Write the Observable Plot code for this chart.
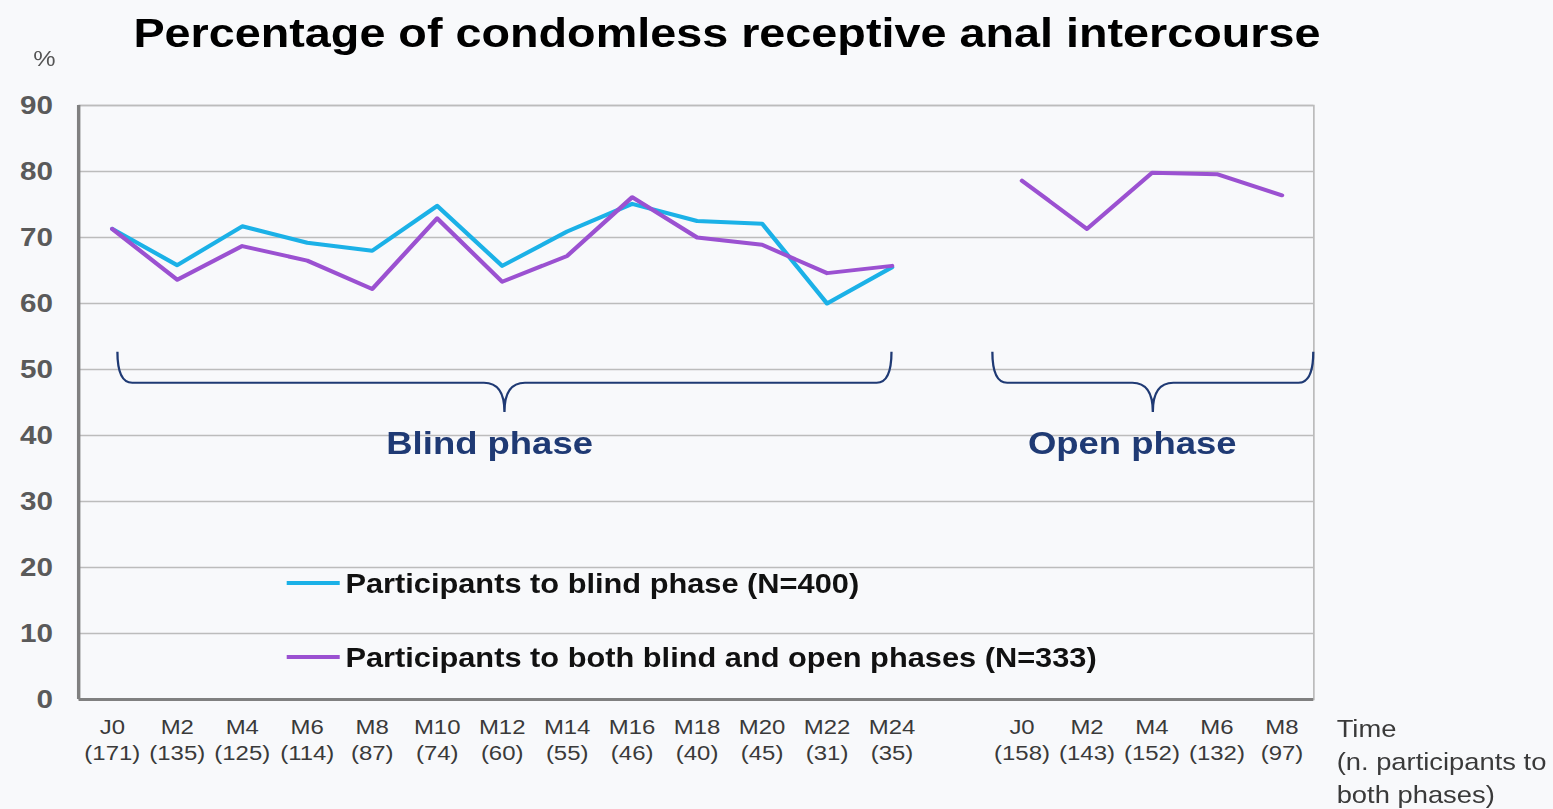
<!DOCTYPE html>
<html>
<head>
<meta charset="utf-8">
<script src="https://cdn.jsdelivr.net/npm/d3@7"></script>
<script src="https://cdn.jsdelivr.net/npm/@observablehq/plot@0.6"></script>
<style>
  html, body { margin: 0; padding: 0; background: #f8f9fb; overflow: hidden; }
  #wrap { width: 1362px; transform: scaleX(1.14); transform-origin: 0 0; font-family: "Liberation Sans", Arial, sans-serif; }
  #title { position: relative; height: 50px; }
  #title span { position: absolute; left: 117px; top: 13px; font-size: 41px; line-height: 1; font-weight: bold; color: #000; white-space: nowrap; }
</style>
</head>
<body>
<div id="wrap">
  <div id="title"><span>Percentage of condomless receptive anal intercourse</span></div>
  <div id="chart"></div>
</div>
<script>
// ---- data ----
const blindTimes = ["J0","M2","M4","M6","M8","M10","M12","M14","M16","M18","M20","M22","M24"];
const blindCounts = [171,135,125,114,87,74,60,55,46,40,45,31,35];
const openTimes = ["J0","M2","M4","M6","M8"];
const openCounts = [158,143,152,132,97];
const blindPhaseValues = [71.3,65.8,71.7,69.2,68.0,74.8,65.7,70.9,75.1,72.5,72.1,60.0,65.5];
const bothBlindValues  = [71.3,63.6,68.7,66.5,62.2,72.9,63.3,67.2,76.1,70.0,68.9,64.6,65.7];
const bothOpenValues   = [78.6,71.3,79.8,79.6,76.4];
const seriesNames = ["Participants to blind phase (N=400)", "Participants to both blind and open phases (N=333)"];
const seriesColors = ["#1bb1e7", "#9b51d1"];
const phaseNames = ["Blind phase", "Open phase"];
const yTicks = [0,10,20,30,40,50,60,70,80,90];
const yUnit = "%";
const xTitle = "Time\n(n. participants to\nboth phases)";

// ---- derived tables ----
const blindKeys = blindTimes.map((t, i) => "B" + i);
const openKeys = openTimes.map((t, i) => "O" + i);
const xDomain = [...blindKeys, "gap", ...openKeys];
const tickText = new Map([
  ...blindKeys.map((k, i) => [k, `${blindTimes[i]}\n(${blindCounts[i]})`]),
  ...openKeys.map((k, i) => [k, `${openTimes[i]}\n(${openCounts[i]})`])
]);
const blindRows = blindKeys.map((k, i) => ({key: k, value: blindPhaseValues[i]}));
const bothRows = [
  ...blindKeys.map((k, i) => ({key: k, value: bothBlindValues[i], phase: "blind"})),
  ...openKeys.map((k, i) => ({key: k, value: bothOpenValues[i], phase: "open"}))
];

const BRACE = "#1f3a74";

function decorations(index, scales, values, dims) {
  const {x, y} = scales;
  const left = dims.marginLeft, right = dims.width - dims.marginRight;
  const top = dims.marginTop, bottom = dims.height - dims.marginBottom;
  const g = d3.create("svg:g");
  // left axis line
  g.append("line").attr("x1", left).attr("x2", left).attr("y1", top).attr("y2", bottom)
    .attr("stroke", "#808080").attr("stroke-width", 3);
  // unit label
  g.append("text").attr("x", left - 30).attr("y", top - 39).attr("text-anchor", "middle")
    .attr("font-size", 22).attr("fill", "#555").text(yUnit);
  // braces
  const braces = [
    {x0: x(blindKeys[0]) + 5, x1: x(blindKeys[blindKeys.length - 1]), name: phaseNames[0], shift: -13},
    {x0: x(openKeys[0]) - 25.5, x1: right, name: phaseNames[1], shift: -18}
  ];
  const yt = y(52.6), yh = y(47.9), yp = y(43.5);
  for (const b of braces) {
    const xm = (b.x0 + b.x1) / 2;
    const p = `M${b.x0},${yt} Q${b.x0},${yh} ${b.x0 + 13},${yh} L${xm - 18},${yh} Q${xm},${yh} ${xm},${yp} Q${xm},${yh} ${xm + 18},${yh} L${b.x1 - 13},${yh} Q${b.x1},${yh} ${b.x1},${yt}`;
    g.append("path").attr("d", p).attr("fill", "none").attr("stroke", BRACE).attr("stroke-width", 2);
    g.append("text").attr("x", xm + b.shift).attr("y", top + 338 + 11.5).attr("text-anchor", "middle")
      .attr("font-size", 32).attr("font-weight", "bold").attr("fill", BRACE).text(b.name);
  }
  // legend
  const legY = [top + 478, top + 552];
  seriesNames.forEach((name, i) => {
    g.append("line").attr("x1", left + 182.5).attr("x2", left + 229).attr("y1", legY[i]).attr("y2", legY[i])
      .attr("stroke", seriesColors[i]).attr("stroke-width", 4);
    g.append("text").attr("x", left + 234).attr("y", legY[i] + 9.7).attr("text-anchor", "start")
      .attr("font-size", 27).attr("font-weight", "bold").attr("fill", "#111").text(name);
  });
  return g.node();
}

const chart = Plot.plot({
  width: 1362,
  height: 759,
  marginTop: 55,
  marginBottom: 110,
  marginLeft: 69,
  marginRight: 210,
  style: {background: "#f8f9fb", fontFamily: "'Liberation Sans', Arial, sans-serif", overflow: "visible"},
  x: {type: "point", domain: xDomain, padding: 0.5, axis: null},
  y: {domain: [0, 90]},
  marks: [
    Plot.gridY(yTicks, {stroke: "#bcbcbc", strokeOpacity: 1, strokeWidth: 1.5}),
    Plot.frame({stroke: "#bcbcbc", strokeWidth: 1.5}),
    Plot.axisY(yTicks, {tickSize: 0, tickPadding: 23, fontSize: 26, fontWeight: "bold", fill: "#5a5a5a", label: null}),
    Plot.ruleY([0], {stroke: "#808080", strokeWidth: 3}),
    Plot.text(xDomain, {x: d => d, text: d => tickText.get(d) || "", frameAnchor: "bottom", lineAnchor: "top",
      dy: 16, fontSize: 21, lineHeight: 1.24, fill: "#3a3a3a"}),
    Plot.text([xTitle], {text: d => d, frameAnchor: "bottom-right", textAnchor: "start", lineAnchor: "top",
      dx: 20, dy: 14, fontSize: 24, lineHeight: 1.375, fill: "#3a3a3a"}),
    decorations,
    Plot.line(blindRows, {x: "key", y: "value", stroke: seriesColors[0], strokeWidth: 4}),
    Plot.line(bothRows, {x: "key", y: "value", z: "phase", stroke: seriesColors[1], strokeWidth: 4})
  ]
});
document.getElementById("chart").appendChild(chart);
</script>
</body>
</html>
